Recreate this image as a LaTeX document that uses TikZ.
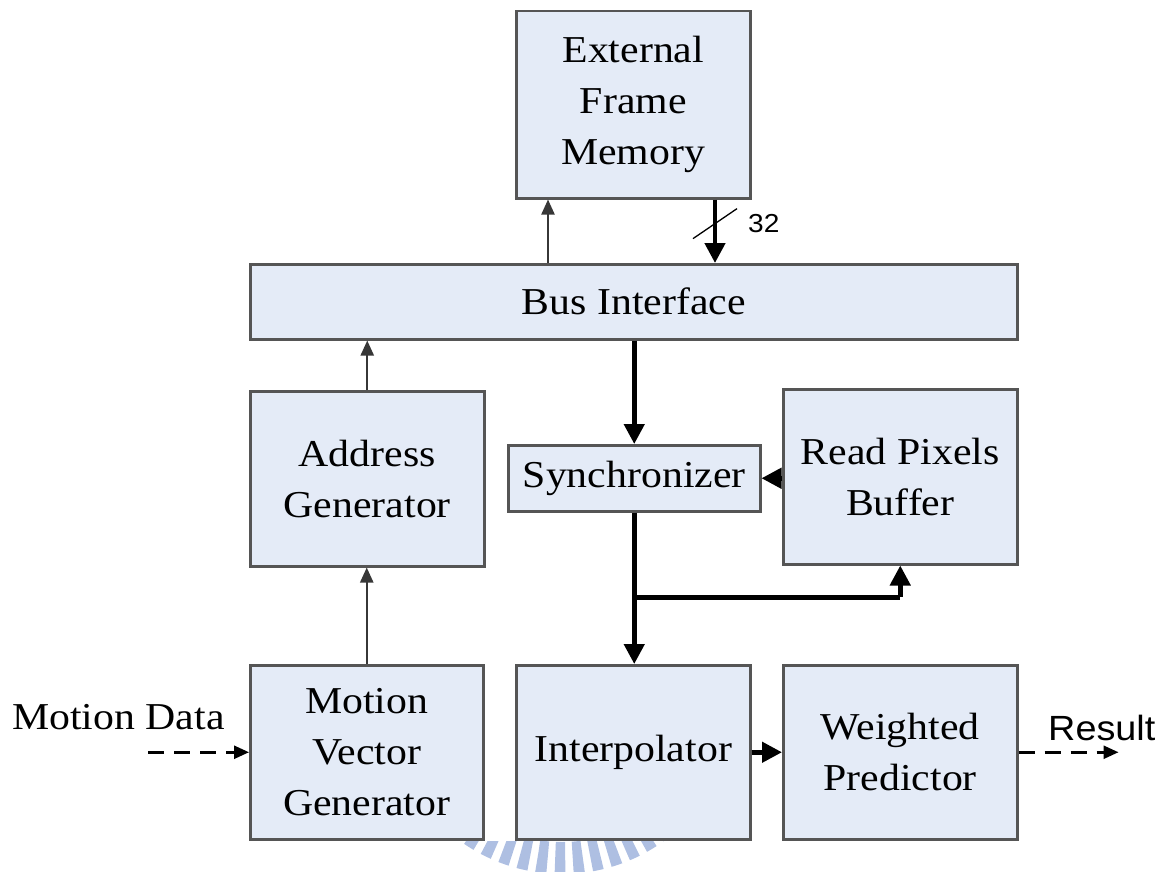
\documentclass[tikz,border=0pt]{standalone}
\usepackage{fontspec}
\setmainfont{Liberation Serif}[FakeStretch=1.1]
\newfontfamily\labelsans{Liberation Sans}[FakeStretch=1.08]
\usetikzlibrary{arrows.meta,calc}
\definecolor{boxfill}{RGB}{228,235,247}
\definecolor{boxline}{RGB}{85,85,85}
\definecolor{thinline}{RGB}{55,55,55}
\definecolor{sealblue}{RGB}{174,191,226}
\begin{document}
\begin{tikzpicture}[x=1pt,y=-1pt,
  block/.style={draw=boxline, fill=boxfill, line width=2.5pt, anchor=north west,
    inner sep=0pt, align=center, font=\fontsize{38}{51}\selectfont},
  thinarrow/.style={draw=thinline, line width=2.2pt, -{Triangle[length=15pt,width=13pt]}},
  thickarrow/.style={draw=black, line width=4.5pt, -{Triangle[length=20pt,width=20pt]}},
  thickline/.style={draw=black, line width=4.5pt},
  flowarrow/.style={draw=black, line width=2.5pt, dash pattern=on 16pt off 10pt,
    -{Triangle[length=15pt,width=13pt]}},
  serifnote/.style={anchor=base west, inner sep=0pt, font=\fontsize{38}{45}\selectfont},
  sansnote/.style={anchor=base west, inner sep=0pt, font=\labelsans\fontsize{35}{40}\selectfont},
]
\useasboundingbox (0,0) rectangle (1173,872);

% faint seal ring along the lower edge
\begin{scope}
  \clip (0,841) rectangle (1173,872);
  \draw[sealblue, line width=32pt, dash pattern=on 10pt off 7.5pt] (562,700) circle[radius=158];
\end{scope}

% blocks
\node[block, minimum width=234pt, minimum height=187pt] (efm) at (515,10) {External\\Frame\\Memory};
\node[block, minimum width=767pt, minimum height=75pt] (bus) at (249,263) {Bus Interface};
\node[block, minimum width=234pt, minimum height=175pt] (ag) at (249,390) {Address\\Generator};
\node[block, minimum width=252pt, minimum height=66pt] (sync) at (507,444) {Synchronizer};
\node[block, minimum width=234pt, minimum height=175pt] (rpb) at (782,388) {Read Pixels\\Buffer};
\node[block, minimum width=233pt, minimum height=174pt] (mvg) at (249,664) {Motion\\Vector\\Generator};
\node[block, minimum width=234pt, minimum height=174pt] (interp) at (515,664) {Interpolator};
\node[block, minimum width=234pt, minimum height=174pt] (wp) at (782,664) {Weighted\\Predictor};

% memory <-> bus
\coordinate (memreq) at ([xshift=33pt]efm.south west);
\coordinate (memdata) at ([xshift=200pt]efm.south west);
\draw[thinarrow] (bus.north -| memreq) -- (memreq);
\draw[thickarrow] (memdata) -- (bus.north -| memdata);
\coordinate (busmark) at ($(memdata)!0.38!(bus.north -| memdata)$);
\draw[line width=1.3pt] ($(busmark)+(-22,15)$) -- ($(busmark)+(22,-15)$);
\node[sansnote, font=\labelsans\fontsize{26}{30}\selectfont] (buswidth) at ($(busmark)+(33,9)$) {32};

% address path
\draw[thinarrow] (ag.north) -- (ag.north |- bus.south);
\draw[thinarrow] (mvg.north) -- (mvg.north |- ag.south);

% pixel data path
\draw[thickarrow] (bus.south -| sync.north) -- (sync.north);
\draw[thickarrow] (rpb.west |- sync.east) -- (sync.east);
\draw[thickarrow] (sync.south) -- (sync.south |- interp.north);
\coordinate (split) at ($(sync.south)!0.56!(sync.south |- interp.north)$);
\draw[thickline] (split) -- (split -| rpb.south);
\draw[thickarrow] (split -| rpb.south) -- (rpb.south);
\draw[thickarrow] (interp.east) -- (wp.east -| wp.west);

% external input and output
\coordinate (mdin) at ([xshift=-101pt]mvg.west);
\draw[flowarrow] (mdin) -- (mvg.west);
\node[serifnote] (mdlabel) at (12,729) {Motion Data};
\coordinate (resout) at ([xshift=100pt]wp.east);
\draw[flowarrow] (wp.east) -- (resout);
\node[sansnote] (reslabel) at (1048,740) {Result};
\end{tikzpicture}
\end{document}
